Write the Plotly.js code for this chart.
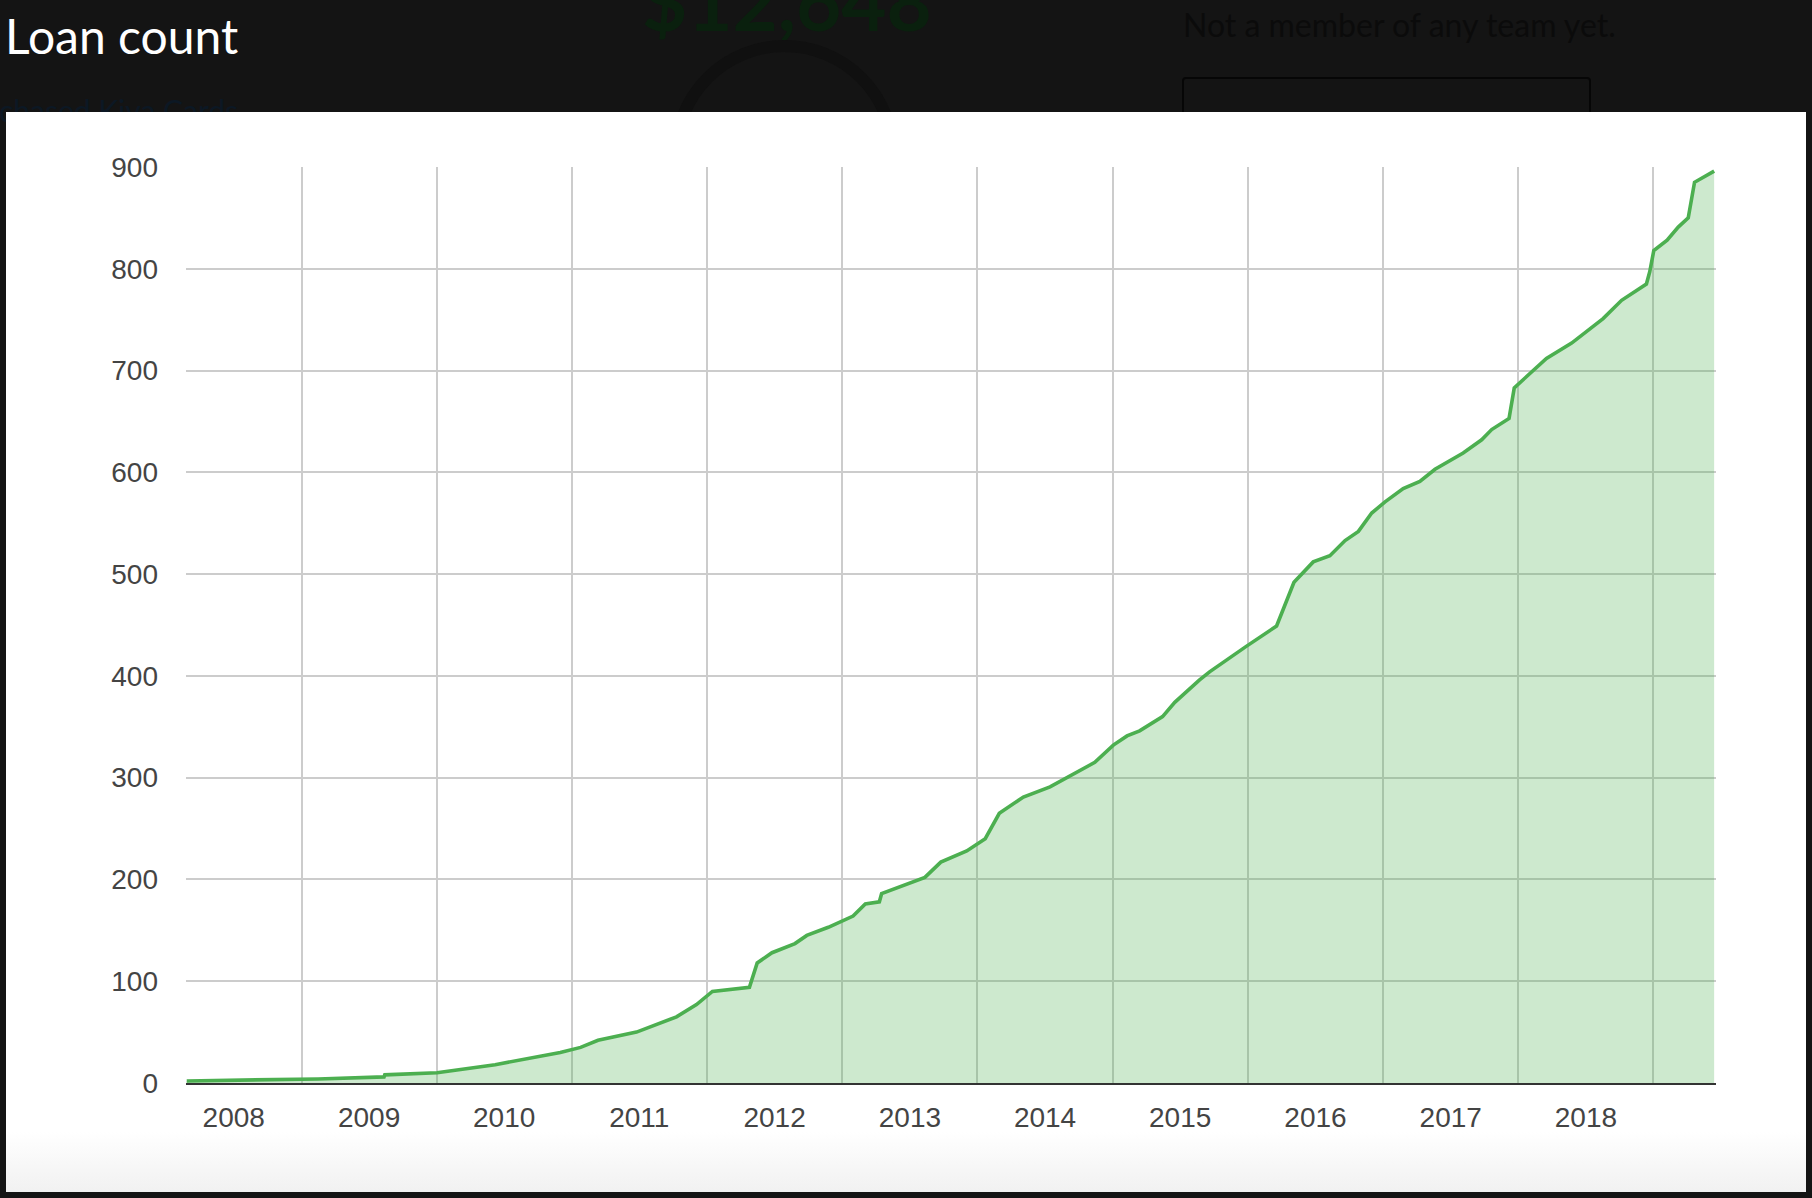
<!DOCTYPE html>
<html>
<head>
<meta charset="utf-8">
<script src="https://cdn.plot.ly/plotly-3.0.1.min.js"></script>
<style>
  html, body { margin: 0; padding: 0; }
  body { width: 1812px; height: 1198px; background: #141414; position: relative; overflow: hidden; font-family: Lato, "Open Sans", sans-serif; }
  .bg { position: absolute; white-space: nowrap; }
  #panel { position: absolute; left: 6px; top: 112px; width: 1800px; height: 1080px;
           background: linear-gradient(to bottom, #ffffff 0, #ffffff 1020px, #f1f1f1 1080px); }
  #chart { position: absolute; left: 6px; top: 112px; width: 1800px; height: 1080px; }
  #title { position: absolute; left: 5px; top: 12px; font-family: Lato, sans-serif; font-size: 48px; line-height: 48px; color: #ffffff; }
</style>
</head>
<body>
<div class="bg" style="left:642px; top:-38px; font-size:78px; line-height:78px; font-weight:bold; color:#0a200e;">$12,648</div>
<div class="bg" style="left:670px; top:40px; width:205px; height:205px; border-radius:50%; border:12px solid #101010;"></div>
<div class="bg" style="left:-46px; top:95px; font-size:30px; line-height:30px; color:#0c1824;">Purchased Kiva Cards</div>
<div class="bg" style="left:1183px; top:9px; font-size:32px; line-height:32px; color:#0b0b0b;">Not a member of any team yet.</div>
<div class="bg" style="left:1182px; top:77px; width:405px; height:60px; border:2px solid #060606; border-radius:4px;"></div>
<div id="title">Loan count</div>
<div id="panel"></div>
<div id="chart"></div>
<script>
// Cumulative loan count over time
const dates = [
  "2008-02-26","2009-02-15","2009-08-12","2009-08-14","2010-01-02","2010-06-08","2010-12-01",
  "2011-01-25","2011-03-13","2011-06-25","2011-10-11","2011-12-04","2012-01-16","2012-04-25",
  "2012-05-16","2012-06-25","2012-08-26","2012-09-27","2012-11-24","2013-01-30","2013-03-04",
  "2013-04-11","2013-04-17","2013-06-06","2013-08-12","2013-09-24","2013-12-03","2014-01-22",
  "2014-03-01","2014-05-05","2014-07-16","2014-11-14","2015-01-03","2015-02-09","2015-03-15",
  "2015-05-16","2015-06-18","2015-08-24","2015-09-20","2015-12-28","2016-03-19","2016-05-05",
  "2016-06-26","2016-08-10","2016-09-20","2016-10-26","2016-12-01","2017-01-06","2017-02-24",
  "2017-04-10","2017-05-21","2017-08-05","2017-09-24","2017-10-21","2017-12-07","2017-12-21",
  "2018-03-18","2018-05-25","2018-08-18","2018-10-07","2018-11-25","2018-12-13","2018-12-22",
  "2019-01-02","2019-02-07","2019-03-09","2019-04-05","2019-04-22","2019-06-14"
];
const loanCounts = [
  2,4,6,8,10,18,30,
  35,42,50,65,77,90,94,
  118,128,137,145,153,164,176,
  178,186,193,202,217,228,240,
  265,281,291,315,332,341,346,
  360,374,396,404,429,449,492,
  512,518,533,542,560,571,584,
  591,603,619,632,642,653,683,
  712,727,751,769,781,785,797,
  818,828,841,850,885,896
];
const yTicks = [0,100,200,300,400,500,600,700,800,900];
const xRange = ["2008-02-24", "2019-06-19"];

const tickFont = { family: "Liberation Sans, Arial, sans-serif", size: 28, color: "#444444" };

const trace = {
  type: "scatter",
  mode: "lines",
  x: dates,
  y: loanCounts,
  line: { color: "#4caf50", width: 3.6 },
  fill: "tozeroy",
  fillcolor: "rgba(76,175,80,0.28)",
  hoverinfo: "skip"
};

const layout = {
  width: 1800,
  height: 1080,
  margin: { l: 180, r: 90, t: 55, b: 109 },
  paper_bgcolor: "rgba(0,0,0,0)",
  plot_bgcolor: "rgba(0,0,0,0)",
  showlegend: false,
  xaxis: {
    type: "date",
    range: xRange,
    tick0: "2008-01-01",
    dtick: "M12",
    tickformat: "%Y",
    ticklabelmode: "period",
    showgrid: true,
    gridcolor: "#cccccc",
    gridwidth: 2,
    zeroline: false,
    showline: true,
    linecolor: "#333333",
    linewidth: 2,
    ticks: "",
    ticklabelstandoff: 8,
    tickfont: tickFont,
    fixedrange: true
  },
  yaxis: {
    range: [0, 900],
    tickvals: yTicks,
    ticktext: yTicks.map(String),
    showgrid: true,
    gridcolor: "#cccccc",
    gridwidth: 2,
    zeroline: false,
    showline: false,
    ticks: "",
    ticklabelstandoff: 27,
    tickfont: tickFont,
    fixedrange: true
  }
};

Plotly.newPlot("chart", [trace], layout, { displayModeBar: false, staticPlot: true });
</script>
</body>
</html>
